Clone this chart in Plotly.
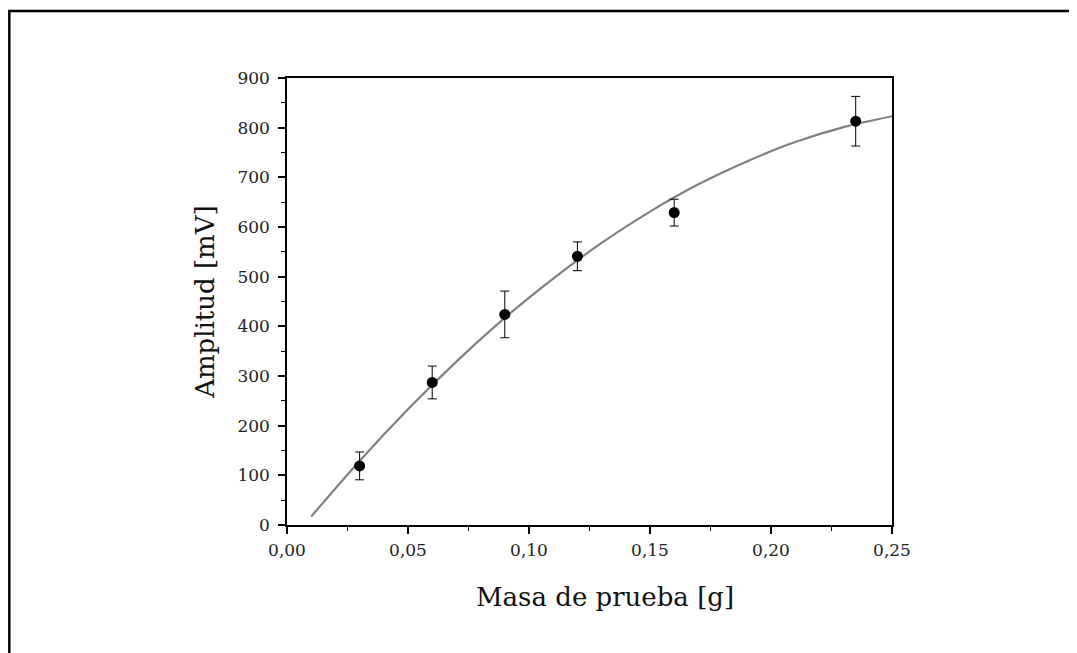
import plotly.graph_objects as go

# Measured data
masa = [0.03, 0.06, 0.09, 0.12, 0.16, 0.235]
amplitud = [119, 287, 424, 541, 629, 813]
error = [28, 33, 47, 29, 27, 50]

# Fitted curve
fit_x = [0.01, 0.03, 0.05, 0.07, 0.09, 0.11, 0.13, 0.15, 0.17, 0.19, 0.21, 0.23, 0.25]
fit_y = [17, 129, 233, 329, 417, 496, 568, 631, 686, 732, 771, 801, 823]

x_ticks = [0.00, 0.05, 0.10, 0.15, 0.20, 0.25]
x_ticklabels = ["0,00", "0,05", "0,10", "0,15", "0,20", "0,25"]
y_ticks = [0, 100, 200, 300, 400, 500, 600, 700, 800, 900]

FONT = "DejaVu Serif"

fig = go.Figure()
fig.add_trace(go.Scatter(
    x=fit_x, y=fit_y, mode="lines", line=dict(color="#808080", width=2.2, shape="spline"),
    hoverinfo="skip", showlegend=False))
fig.add_trace(go.Scatter(
    x=masa, y=amplitud, mode="markers",
    marker=dict(color="black", size=11),
    error_y=dict(type="data", array=error, visible=True, color="black", thickness=1, width=4.5),
    showlegend=False))

axis_common = dict(
    showgrid=False, zeroline=False, showline=True, linecolor="black", linewidth=1.5,
    mirror=True, ticks="outside", ticklen=7, tickwidth=1.5, tickcolor="black",
    tickfont=dict(family=FONT, size=17, color="#222"),
)

fig.update_xaxes(range=[0, 0.25], tickvals=x_ticks, ticktext=x_ticklabels,
                 ticklabelstandoff=2,
                 minor=dict(dtick=0.025, ticks="outside", ticklen=4, tickwidth=1.2, tickcolor="black"),
                 **axis_common)
fig.update_yaxes(range=[0, 900], tickvals=y_ticks, ticklabelstandoff=5,
                 minor=dict(dtick=50, ticks="outside", ticklen=4, tickwidth=1.2, tickcolor="black"),
                 **axis_common)

fig.add_annotation(text="Masa de prueba [g]", xref="paper", yref="paper", x=0.5256, y=-0.161,
                   showarrow=False, xanchor="center", yanchor="middle",
                   font=dict(family=FONT, size=26, color="#111"))
fig.add_annotation(text="Amplitud [mV]", xref="paper", yref="paper", x=-0.1366, y=0.5,
                   showarrow=False, xanchor="center", yanchor="middle", textangle=-90,
                   font=dict(family=FONT, size=26, color="#111"))

# outer frame
fig.add_shape(type="rect", xref="paper", yref="paper", x0=-0.459, x1=1.6, y0=-0.6, y1=1.150,
              line=dict(color="black", width=2.5), fillcolor="rgba(0,0,0,0)", layer="below")

fig.update_layout(
    width=1077, height=653,
    margin=dict(l=279, r=193, t=70, b=136),
    paper_bgcolor="white", plot_bgcolor="white",
    showlegend=False,
)

fig.write_html("out.html")
